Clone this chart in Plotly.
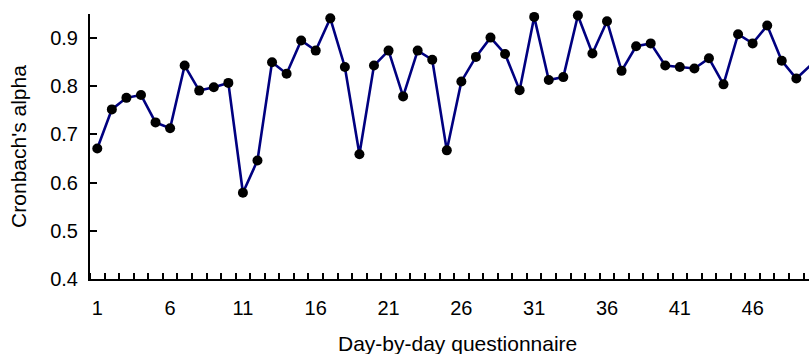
import plotly.graph_objects as go

days = list(range(1, 51))
alpha = [0.671, 0.752, 0.776, 0.782, 0.725, 0.713, 0.843, 0.791, 0.798, 0.807,
         0.579, 0.646, 0.850, 0.826, 0.895, 0.874, 0.941, 0.840, 0.659, 0.843,
         0.874, 0.779, 0.874, 0.855, 0.667, 0.810, 0.861, 0.901, 0.867, 0.792,
         0.944, 0.813, 0.819, 0.947, 0.868, 0.935, 0.832, 0.883, 0.889, 0.843,
         0.840, 0.837, 0.858, 0.804, 0.908, 0.889, 0.926, 0.853, 0.816, 0.844]
x_tick_vals = [1, 6, 11, 16, 21, 26, 31, 36, 41, 46]
x_minor_vals = [d - 0.5 for d in range(1, 51)]
y_tick_vals = [0.4, 0.5, 0.6, 0.7, 0.8, 0.9]
y_tick_text = ["0.4", "0.5", "0.6", "0.7", "0.8", "0.9"]

FONT = "Liberation Sans, Arial, sans-serif"

fig = go.Figure()
fig.add_trace(go.Scatter(
    x=days, y=alpha, mode="lines+markers",
    line=dict(color="#000080", width=2.6),
    marker=dict(color="black", size=10),
    cliponaxis=False, showlegend=False, hoverinfo="skip",
))

fig.update_layout(
    width=809, height=354,
    margin=dict(l=90, r=0, t=14, b=75, autoexpand=False),
    paper_bgcolor="white", plot_bgcolor="white",
    font=dict(family=FONT, size=20, color="black"),
    hovermode=False,
    xaxis=dict(
        range=[0.5, 49.87], automargin=False,
        tickmode="array", tickvals=x_tick_vals,
        ticktext=[str(v) for v in x_tick_vals],
        ticks="", showgrid=False, zeroline=False,
        showline=True, linecolor="black", linewidth=2,
        ticklabelstandoff=10,
        minor=dict(tickmode="array", tickvals=x_minor_vals, ticks="inside",
                   ticklen=6, tickwidth=1.5, tickcolor="black", showgrid=False),
    ),
    yaxis=dict(
        range=[0.4, 0.95], automargin=False,
        tickmode="array", tickvals=y_tick_vals, ticktext=y_tick_text,
        ticks="inside", ticklen=7, tickwidth=2, tickcolor="black",
        showgrid=False, zeroline=False,
        showline=True, linecolor="black", linewidth=2,
        ticklabelstandoff=6,
        title=dict(text="Cronbach's alpha", font=dict(size=21), standoff=18),
    ),
    annotations=[dict(
        text="Day-by-day questionnaire", xref="paper", yref="paper",
        x=(457 - 90) / 719, y=0, yshift=-64, xanchor="center", yanchor="middle",
        showarrow=False, font=dict(size=21, family=FONT, color="black"),
    )],
)

fig.write_html("out.html", config={"displayModeBar": False},
               post_script="document.body.style.margin='0';")
